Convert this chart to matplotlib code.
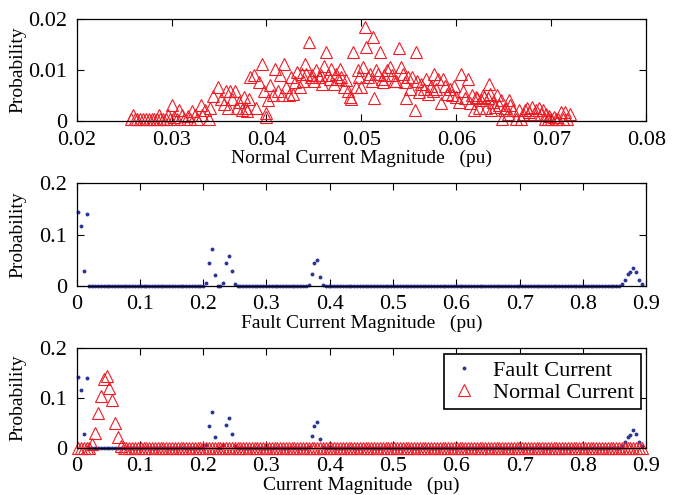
import matplotlib
matplotlib.use('Agg')
import matplotlib.pyplot as plt
import numpy as np

plt.rcParams['font.family'] = ['Liberation Serif', 'DejaVu Serif']
plt.rcParams['font.size'] = 14

# normal current samples (top panel): magnitude (pu) and probability
normal_mag = [
    0.0259, 0.0257, 0.0261, 0.0264, 0.0267, 0.0270, 0.0273, 0.0276, 0.0279, 0.0282,
    0.0285, 0.0288, 0.0287, 0.0291, 0.0294, 0.0296, 0.0298, 0.0301, 0.0303, 0.0306,
    0.0308, 0.0311, 0.0313, 0.0317, 0.0319, 0.0322, 0.0325, 0.0327, 0.0331, 0.0332,
    0.0335, 0.0339, 0.0341,
    0.0344, 0.0349, 0.0352, 0.0355, 0.0357, 0.0359, 0.0362, 0.0364, 0.0367, 0.0369,
    0.0371, 0.0374, 0.0376, 0.0378, 0.0380, 0.0382, 0.0383, 0.0387, 0.0389, 0.0392,
    0.0395, 0.0397, 0.0399, 0.0400,
    0.0402, 0.0404, 0.0407, 0.0409, 0.0412, 0.0414, 0.0416, 0.0418, 0.0421, 0.0424,
    0.0426, 0.0428, 0.0430, 0.0432, 0.0435, 0.0437, 0.0439, 0.0441, 0.0442, 0.0445,
    0.0447, 0.0448, 0.0450, 0.0452, 0.0455, 0.0457, 0.0458, 0.0461, 0.0463, 0.0465,
    0.0467, 0.0468, 0.0471, 0.0473, 0.0475, 0.0477, 0.0479, 0.0482, 0.0484, 0.0486,
    0.0488, 0.0489, 0.0491, 0.0494, 0.0496, 0.0498,
    0.0500, 0.0502, 0.0504, 0.0505, 0.0507, 0.0509, 0.0511, 0.0512, 0.0513, 0.0515,
    0.0517, 0.0520, 0.0522, 0.0523, 0.0524, 0.0527, 0.0530, 0.0532, 0.0534, 0.0537,
    0.0540, 0.0542, 0.0544, 0.0546, 0.0547, 0.0549, 0.0551, 0.0553, 0.0556, 0.0558,
    0.0559, 0.0561, 0.0563, 0.0566, 0.0568, 0.0570, 0.0573, 0.0575, 0.0577, 0.0579,
    0.0581, 0.0584, 0.0586, 0.0588, 0.0590, 0.0593, 0.0595, 0.0598, 0.0600,
    0.0603, 0.0605, 0.0607, 0.0609, 0.0612, 0.0614, 0.0617, 0.0619, 0.0621, 0.0622,
    0.0624, 0.0626, 0.0628, 0.0629, 0.0631, 0.0633, 0.0634, 0.0635, 0.0637, 0.0639,
    0.0641, 0.0643, 0.0645, 0.0647, 0.0648, 0.0650, 0.0652, 0.0654, 0.0655, 0.0657,
    0.0660, 0.0663, 0.0666, 0.0668, 0.0670, 0.0672, 0.0675, 0.0677, 0.0680, 0.0682,
    0.0684, 0.0687, 0.0689, 0.0691, 0.0693, 0.0695, 0.0697, 0.0698, 0.0700, 0.0703,
    0.0705, 0.0707, 0.0710, 0.0712, 0.0715, 0.0717, 0.0720,
]
normal_prob = [
    0.0012, 0.0004, 0.0003, 0.0004, 0.0003, 0.0004, 0.0003, 0.0004, 0.0003, 0.0004,
    0.0003, 0.0004, 0.0012, 0.0004, 0.0003, 0.0012, 0.0004, 0.0031, 0.0008, 0.0004,
    0.0021, 0.0012, 0.0004, 0.0010, 0.0004, 0.0020, 0.0012, 0.0004, 0.0030, 0.0012,
    0.0021, 0.0004, 0.0025,
    0.0049, 0.0067, 0.0042, 0.0033, 0.0058, 0.0025, 0.0058, 0.0042, 0.0058, 0.0025,
    0.0037, 0.0021, 0.0046, 0.0025, 0.0019, 0.0042, 0.0085, 0.0089, 0.0025, 0.0076,
    0.0112, 0.0058, 0.0015, 0.0008,
    0.0041, 0.0070, 0.0050, 0.0102, 0.0058, 0.0089, 0.0050, 0.0112, 0.0066, 0.0050,
    0.0085, 0.0053, 0.0076, 0.0095, 0.0066, 0.0092, 0.0079, 0.0112, 0.0092, 0.0154,
    0.0085, 0.0090, 0.0079, 0.0099, 0.0085, 0.0090, 0.0073, 0.0108, 0.0134, 0.0090,
    0.0082, 0.0102, 0.0073, 0.0092, 0.0082, 0.0102, 0.0085, 0.0066, 0.0080, 0.0058,
    0.0047, 0.0042, 0.0134, 0.0067, 0.0099, 0.0085,
    0.0066, 0.0105, 0.0183, 0.0145, 0.0085, 0.0092, 0.0079, 0.0164, 0.0044, 0.0099,
    0.0092, 0.0134, 0.0082, 0.0076, 0.0089, 0.0099, 0.0105, 0.0089, 0.0079, 0.0079,
    0.0143, 0.0105, 0.0092, 0.0076, 0.0044, 0.0085, 0.0063, 0.0086, 0.0021, 0.0134,
    0.0079, 0.0056, 0.0073, 0.0063, 0.0082, 0.0053, 0.0069, 0.0058, 0.0092, 0.0063,
    0.0082, 0.0035, 0.0082, 0.0069, 0.0053, 0.0063, 0.0050, 0.0069, 0.0047,
    0.0037, 0.0092, 0.0058, 0.0044, 0.0082, 0.0034, 0.0050, 0.0021, 0.0047, 0.0044,
    0.0025, 0.0040, 0.0050, 0.0047, 0.0025, 0.0044, 0.0073, 0.0053, 0.0021, 0.0037,
    0.0027, 0.0050, 0.0031, 0.0041, 0.0004, 0.0021, 0.0025, 0.0013, 0.0041, 0.0031,
    0.0021, 0.0004, 0.0021, 0.0004, 0.0013, 0.0021, 0.0025, 0.0017, 0.0027, 0.0013,
    0.0021, 0.0025, 0.0013, 0.0021, 0.0004, 0.0013, 0.0004, 0.0010, 0.0004, 0.0007,
    0.0004, 0.0003, 0.0017, 0.0004, 0.0017, 0.0004, 0.0013,
]

# histogram over 0 - 0.9 pu (bins of 0.0045 pu), non-zero bins only
n_bins = 199
bin_width = 0.0045
fault_nonzero = {
    0: 0.143, 1: 0.116, 2: 0.028, 3: 0.141,
    45: 0.0045, 46: 0.044, 47: 0.071, 48: 0.021, 51: 0.006, 52: 0.045,
    53: 0.059, 54: 0.028, 55: 0.003,
    81: 0.002, 82: 0.023, 83: 0.0445, 84: 0.051, 85: 0.017, 86: 0.001,
    191: 0.003, 192: 0.011, 193: 0.022, 194: 0.026, 195: 0.0346, 196: 0.0268,
    197: 0.011, 198: 0.003,
}
normal_binned_nonzero = {
    5: 0.007, 6: 0.029, 7: 0.070, 8: 0.104, 9: 0.138, 10: 0.144,
    11: 0.121, 12: 0.096, 13: 0.049, 14: 0.022, 15: 0.003,
}

bin_centres = bin_width * (np.arange(n_bins) + 0.5)
fault_prob = np.zeros(n_bins)
for k, v in fault_nonzero.items():
    fault_prob[k] = v
normal_binned = np.zeros(n_bins)
for k, v in normal_binned_nonzero.items():
    normal_binned[k] = v

red = '#ee1c25'
blue = '#2b3595'

fig = plt.figure(figsize=(6.78, 4.95), dpi=100)
ax1 = fig.add_axes([0.113, 0.756, 0.840, 0.206])
ax2 = fig.add_axes([0.113, 0.4228, 0.840, 0.2069])
ax3 = fig.add_axes([0.113, 0.0956, 0.840, 0.2008])

tri = dict(linestyle='none', marker='^', markersize=8, fillstyle='none',
           markeredgewidth=0.8, color=red, clip_on=False)
dot = dict(linestyle='none', marker='o', markersize=2.8, markeredgewidth=0,
           color=blue, clip_on=False)

ax1.plot(normal_mag, normal_prob, **tri)
ax1.set_xlim(0.02, 0.08)
ax1.set_ylim(0, 0.02)
ax1.set_xticks([0.02, 0.03, 0.04, 0.05, 0.06, 0.07, 0.08])
ax1.set_xticklabels(['0.02', '0.03', '0.04', '0.05', '0.06', '0.07', '0.08'])
ax1.set_yticks([0, 0.01, 0.02])
ax1.set_yticklabels(['0', '0.01', '0.02'])
ax1.set_xlabel('Normal Current Magnitude   (pu)', labelpad=0)

ax2.plot(bin_centres, fault_prob, **dot)

ax3.plot(bin_centres, fault_prob, label='Fault Current', **dot)
ax3.plot(bin_centres, normal_binned, label='Normal Current', **tri)

xt = [0, 0.1, 0.2, 0.3, 0.4, 0.5, 0.6, 0.7, 0.8, 0.9]
xl = ['0', '0.1', '0.2', '0.3', '0.4', '0.5', '0.6', '0.7', '0.8', '0.9']
for ax in (ax2, ax3):
    ax.set_xlim(0, 0.9)
    ax.set_ylim(0, 0.2)
    ax.set_xticks(xt)
    ax.set_xticklabels(xl)
    ax.set_yticks([0, 0.1, 0.2])
    ax.set_yticklabels(['0', '0.1', '0.2'])
ax2.set_xlabel('Fault Current Magnitude   (pu)', labelpad=0)
ax3.set_xlabel('Current Magnitude   (pu)', labelpad=0)

for ax in (ax1, ax2, ax3):
    ax.tick_params(direction='in', top=True, right=True, length=5, width=0.8,
                   labelsize=16)
    ax.tick_params(axis='x', pad=7)
    ax.tick_params(axis='y', pad=7)
    for lab in ax.get_yticklabels():
        lab.set_verticalalignment('center_baseline')
    for s in ax.spines.values():
        s.set_linewidth(0.9)
    ax.set_ylabel('Probability')
    ax.yaxis.set_label_coords(-0.088, 0.5)

leg = ax3.legend(loc='upper right', fancybox=False, edgecolor='black',
                 framealpha=1, borderaxespad=0.25, handlelength=1.2,
                 handletextpad=0.7, labelspacing=0.05, borderpad=0.3,
                 fontsize=16)
leg.get_frame().set_linewidth(1.2)

plt.savefig('out.png', dpi=100)
